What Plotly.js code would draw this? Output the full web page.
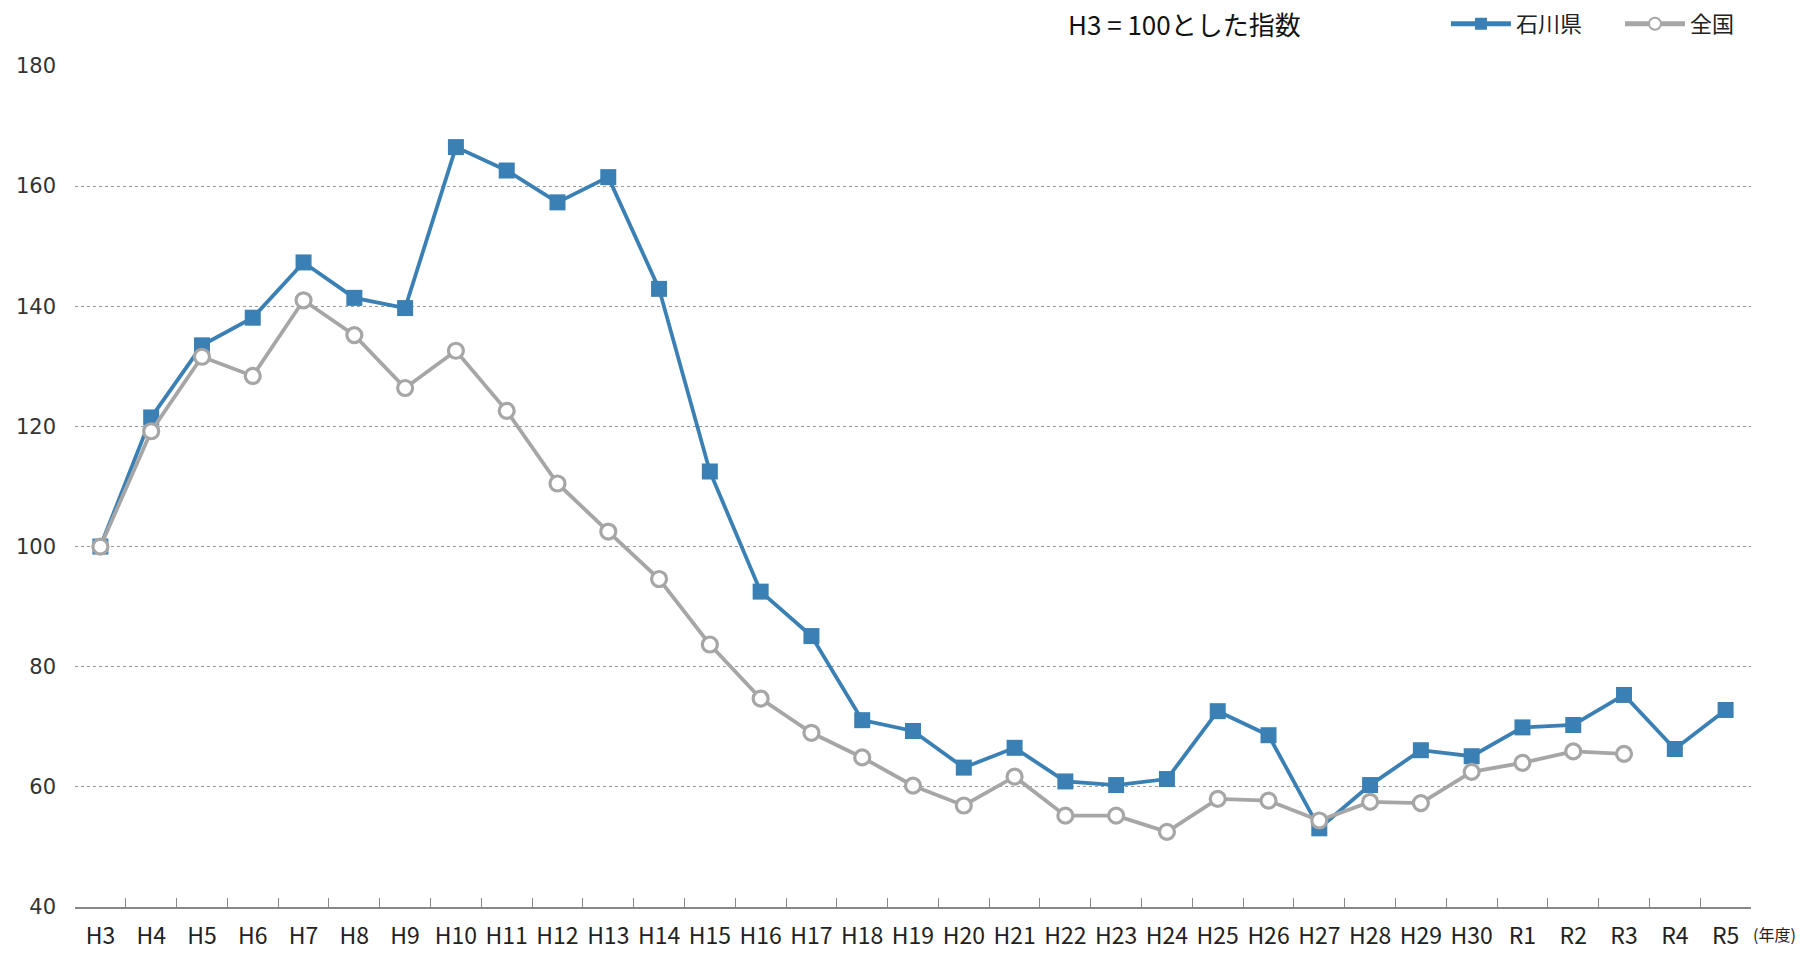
<!DOCTYPE html>
<html>
<head>
<meta charset="utf-8">
<script src="https://cdn.plot.ly/plotly-3.0.1.min.js"></script>
<style>
  html, body { margin: 0; padding: 0; background: #fff; }
  #chart { width: 1804px; height: 953px; }
</style>
</head>
<body>
<div id="chart"></div>
<script>
const years = ["H3","H4","H5","H6","H7","H8","H9","H10","H11","H12","H13","H14","H15","H16","H17","H18","H19","H20","H21","H22","H23","H24","H25","H26","H27","H28","H29","H30","R1","R2","R3","R4","R5"];
const ishikawa = [100,121.5,133.5,138.1,147.3,141.4,139.7,166.5,162.6,157.3,161.5,142.9,112.5,92.5,85.1,71.1,69.3,63.2,66.5,60.9,60.3,61.3,72.6,68.6,53.1,60.3,66.1,65.1,69.9,70.3,75.3,66.3,72.8];
const zenkoku = [100,119.2,131.6,128.4,141.0,135.2,126.4,132.6,122.6,110.5,102.5,94.6,83.7,74.7,69.0,64.9,60.2,56.9,61.7,55.2,55.2,52.5,58.0,57.7,54.4,57.5,57.3,62.5,64.0,65.9,65.5,null,null];
const yTicks = [40,60,80,100,120,140,160,180];
const seriesNames = ["石川県","全国"];
const titleText = "H3 = 100とした指数";
const unitText = "(年度)";

const jp = '"Noto Sans CJK JP", "Noto Sans", sans-serif';

const traces = [
  {
    x: years, y: ishikawa, name: seriesNames[0], type: 'scatter', mode: 'lines+markers',
    line: {color: '#3A80B4', width: 3.8},
    marker: {symbol: 'square', size: 16, color: '#3A80B4'}
  },
  {
    x: years, y: zenkoku, name: seriesNames[1], type: 'scatter', mode: 'lines+markers',
    line: {color: '#A6A6A6', width: 3.8},
    marker: {symbol: 'circle', size: 15, color: '#FFFFFF', line: {color: '#A6A6A6', width: 3.2}}
  }
];

const layout = {
  width: 1804, height: 953,
  margin: {l: 75, r: 53, t: 66, b: 46, autoexpand: false},
  paper_bgcolor: '#fff', plot_bgcolor: '#fff',
  showlegend: true,
  legend: {
    orientation: 'h', x: 0.818, xanchor: 'left', y: 1.05, yanchor: 'middle',
    font: {family: jp, size: 22, color: '#222'},
    entrywidth: 99, entrywidthmode: 'pixels', itemwidth: 60, itemsizing: 'constant',
    bgcolor: 'rgba(0,0,0,0)'
  },
  xaxis: {
    type: 'category', categoryorder: 'array', categoryarray: years,
    range: [-0.5, years.length - 0.5],
    showline: true, linecolor: '#888', linewidth: 1.5,
    ticks: 'inside', tickson: 'boundaries', ticklen: 9, tickcolor: '#888', tickwidth: 1.2,
    showgrid: false, zeroline: false, tickangle: 0,
    tickfont: {family: jp, size: 23, color: '#222'},
    ticklabelstandoff: 8
  },
  yaxis: {
    range: [40, 180], tickvals: yTicks, ticktext: yTicks.map(String),
    showgrid: true, gridcolor: '#999', griddash: 'dot', gridwidth: 1,
    showline: false, zeroline: false, ticks: '',
    tickfont: {family: '"DejaVu Sans", Verdana, sans-serif', size: 21, color: '#333'},
    ticklabelstandoff: 18
  },
  annotations: [
    {text: titleText, xref: 'paper', yref: 'paper', x: 0.662, y: 1.05, xanchor: 'center', yanchor: 'middle',
     showarrow: false, font: {family: jp, size: 26, color: '#111'}},
    {text: unitText, xref: 'paper', yref: 'paper', x: 1.0, y: -0.032, xanchor: 'left', yanchor: 'middle',
     showarrow: false, font: {family: jp, size: 16, color: '#222'}}
  ]
};

Plotly.newPlot('chart', traces, layout, {displayModeBar: false, responsive: false});
</script>
</body>
</html>
